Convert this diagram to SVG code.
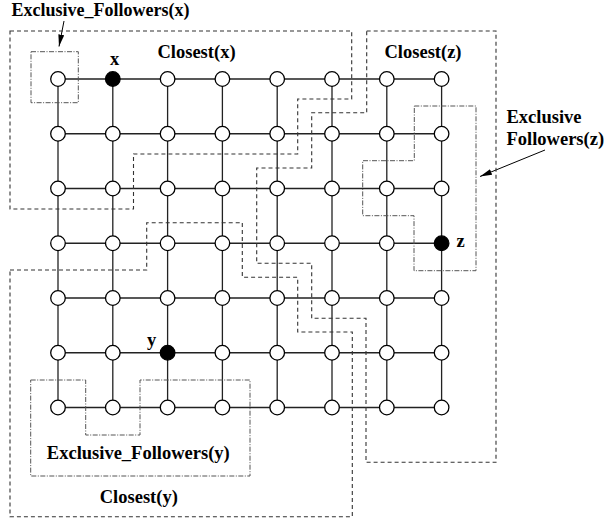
<svg xmlns="http://www.w3.org/2000/svg" width="605" height="523" viewBox="0 0 605 523">
<style>
.grid{stroke:#222;stroke-width:1.3;fill:none}
.node{fill:#fff;stroke:#000;stroke-width:1.3}
.sel{fill:#000;stroke:#000;stroke-width:1.3}
.closest{fill:none;stroke:#333;stroke-width:1.1;stroke-dasharray:4,3}
.excl{fill:none;stroke:#555;stroke-width:1;stroke-dasharray:5,1.5,1,1.5}
.lbl{font-family:"Liberation Serif",serif;font-weight:bold;font-size:18.5px;fill:#000}
.arr{stroke:#000;stroke-width:1;fill:none;marker-end:url(#ah)}
</style>
<defs>
<marker id="ah" viewBox="0 0 12 6" refX="12" refY="3" markerWidth="12" markerHeight="6" orient="auto" markerUnits="userSpaceOnUse">
<path d="M0,0 L12,3 L0,6 z" fill="#000"/>
</marker>
</defs>
<g id="connectors">
<g class="grid">
<path d="M58,79H441.6M58,133.75H441.6M58,188.5H441.6M58,243.25H441.6M58,298H441.6M58,352.75H441.6M58,407.5H441.6"/>
<path d="M58,79V407.5M112.8,79V407.5M167.6,79V407.5M222.4,79V407.5M277.2,79V407.5M332,79V407.5M386.8,79V407.5M441.6,79V407.5"/>
</g>
<path class="arr" d="M64,21 L59,46.5"/>
<path class="arr" d="M545,150 L480,176.5"/>
</g>
<g id="regions">
<path id="closest-x" class="closest" d="M10,31 H351.7 V99 H297.7 V154 H133.5 V209 H10 Z"/>
<path id="closest-z" class="closest" d="M366.7,31 H496 V462.3 H366 V318.3 H311.7 V263.3 H256.7 V168 H311.7 V112.7 H366.7 Z"/>
<path id="closest-y" class="closest" d="M10,270 H146.7 V222.7 H242.3 V277.3 H297.7 V332 H352.3 V516.7 H10 Z"/>
<path id="excl-x" class="excl" d="M31,51.7 H78.3 V102.7 H31 Z"/>
<path id="excl-z" class="excl" d="M414.3,106 H476 V270.7 H414 V215.7 H362.7 V160.7 H414.3 Z"/>
<path id="excl-y" class="excl" d="M30.7,380 H85.7 V435 H140 V380 H250 V476 H30.7 Z"/>
</g>
<g id="nodes">
<g id="r0"><circle class="node" cx="58" cy="79" r="7.3"/><circle class="sel" cx="112.8" cy="79" r="7.3"/><circle class="node" cx="167.6" cy="79" r="7.3"/><circle class="node" cx="222.4" cy="79" r="7.3"/><circle class="node" cx="277.2" cy="79" r="7.3"/><circle class="node" cx="332" cy="79" r="7.3"/><circle class="node" cx="386.8" cy="79" r="7.3"/><circle class="node" cx="441.6" cy="79" r="7.3"/></g>
<g id="r1"><circle class="node" cx="58" cy="133.75" r="7.3"/><circle class="node" cx="112.8" cy="133.75" r="7.3"/><circle class="node" cx="167.6" cy="133.75" r="7.3"/><circle class="node" cx="222.4" cy="133.75" r="7.3"/><circle class="node" cx="277.2" cy="133.75" r="7.3"/><circle class="node" cx="332" cy="133.75" r="7.3"/><circle class="node" cx="386.8" cy="133.75" r="7.3"/><circle class="node" cx="441.6" cy="133.75" r="7.3"/></g>
<g id="r2"><circle class="node" cx="58" cy="188.5" r="7.3"/><circle class="node" cx="112.8" cy="188.5" r="7.3"/><circle class="node" cx="167.6" cy="188.5" r="7.3"/><circle class="node" cx="222.4" cy="188.5" r="7.3"/><circle class="node" cx="277.2" cy="188.5" r="7.3"/><circle class="node" cx="332" cy="188.5" r="7.3"/><circle class="node" cx="386.8" cy="188.5" r="7.3"/><circle class="node" cx="441.6" cy="188.5" r="7.3"/></g>
<g id="r3"><circle class="node" cx="58" cy="243.25" r="7.3"/><circle class="node" cx="112.8" cy="243.25" r="7.3"/><circle class="node" cx="167.6" cy="243.25" r="7.3"/><circle class="node" cx="222.4" cy="243.25" r="7.3"/><circle class="node" cx="277.2" cy="243.25" r="7.3"/><circle class="node" cx="332" cy="243.25" r="7.3"/><circle class="node" cx="386.8" cy="243.25" r="7.3"/><circle class="sel" cx="441.6" cy="243.25" r="7.3"/></g>
<g id="r4"><circle class="node" cx="58" cy="298" r="7.3"/><circle class="node" cx="112.8" cy="298" r="7.3"/><circle class="node" cx="167.6" cy="298" r="7.3"/><circle class="node" cx="222.4" cy="298" r="7.3"/><circle class="node" cx="277.2" cy="298" r="7.3"/><circle class="node" cx="332" cy="298" r="7.3"/><circle class="node" cx="386.8" cy="298" r="7.3"/><circle class="node" cx="441.6" cy="298" r="7.3"/></g>
<g id="r5"><circle class="node" cx="58" cy="352.75" r="7.3"/><circle class="node" cx="112.8" cy="352.75" r="7.3"/><circle class="sel" cx="167.6" cy="352.75" r="7.3"/><circle class="node" cx="222.4" cy="352.75" r="7.3"/><circle class="node" cx="277.2" cy="352.75" r="7.3"/><circle class="node" cx="332" cy="352.75" r="7.3"/><circle class="node" cx="386.8" cy="352.75" r="7.3"/><circle class="node" cx="441.6" cy="352.75" r="7.3"/></g>
<g id="r6"><circle class="node" cx="58" cy="407.5" r="7.3"/><circle class="node" cx="112.8" cy="407.5" r="7.3"/><circle class="node" cx="167.6" cy="407.5" r="7.3"/><circle class="node" cx="222.4" cy="407.5" r="7.3"/><circle class="node" cx="277.2" cy="407.5" r="7.3"/><circle class="node" cx="332" cy="407.5" r="7.3"/><circle class="node" cx="386.8" cy="407.5" r="7.3"/><circle class="node" cx="441.6" cy="407.5" r="7.3"/></g>
</g>
<g id="labels">
<text class="lbl" x="11.5" y="15.5" style="font-size:18px">Exclusive_Followers(x)</text>
<text class="lbl" x="196.5" y="58" text-anchor="middle">Closest(x)</text>
<text class="lbl" x="114.5" y="65" text-anchor="middle">x</text>
<text class="lbl" x="423" y="58" text-anchor="middle">Closest(z)</text>
<text class="lbl" x="506.5" y="122.5">Exclusive</text>
<text class="lbl" x="506.5" y="144.5">Followers(z)</text>
<text class="lbl" x="456.5" y="246.5">z</text>
<text class="lbl" x="147" y="345.5">y</text>
<text class="lbl" x="138.3" y="459.3" text-anchor="middle">Exclusive_Followers(y)</text>
<text class="lbl" x="138.8" y="503.3" text-anchor="middle">Closest(y)</text>
</g>
</svg>
